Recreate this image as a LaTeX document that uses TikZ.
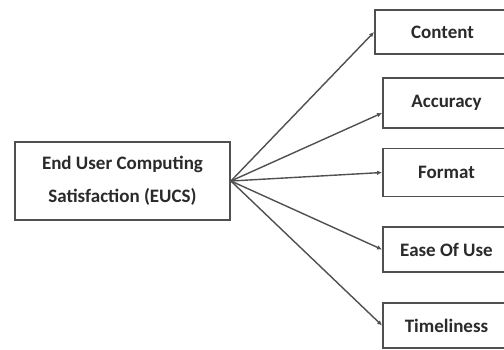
\documentclass[tikz,border=0pt]{standalone}
\usepackage{fontspec}
\setmainfont{Carlito}
\usetikzlibrary{arrows.meta}
\definecolor{ink}{HTML}{2A2A2A}
\definecolor{edge}{HTML}{505050}
\tikzset{
  box/.style={draw=edge, line width=1.8pt, fill=white, inner sep=0pt, font=\bfseries\fontsize{19}{33}\selectfont, text=ink},
  conn/.style={draw=edge, line width=1.4pt, -{Latex[length=5pt,width=4.5pt]}}
}
\begin{document}
\begin{tikzpicture}[x=1pt,y=-1pt]
\useasboundingbox (0,0) rectangle (504,349);
\fill[white] (0,0) rectangle (504,349);
\clip (0,0) rectangle (504,349);
\node[box, minimum width=215pt, minimum height=78pt, align=center] (eucs) at (122.5,181) {End User Computing\\Satisfaction (EUCS)};
\node[box, minimum width=135pt, minimum height=44pt] (content) at (442.5,32) {Content};
\node[box, minimum width=127pt, minimum height=50pt] (acc) at (446.5,103) {Accuracy};
\node[box, minimum width=127pt, minimum height=48pt] (format) at (446.5,172.5) {Format};
\node[box, minimum width=127pt, minimum height=45pt] (ease) at (446.5,249.5) {Ease Of Use};
\node[box, minimum width=127pt, minimum height=45pt] (time) at (446.5,325.5) {Timeliness};
\coordinate (o) at (eucs.east);
\draw[conn] (o) -- (content.west);
\draw[conn] (o) -- ([yshift=-10pt]acc.west);
\draw[conn] (o) -- (format.west);
\draw[conn] (o) -- (ease.west);
\draw[conn] (o) -- (time.west);
\end{tikzpicture}
\end{document}
